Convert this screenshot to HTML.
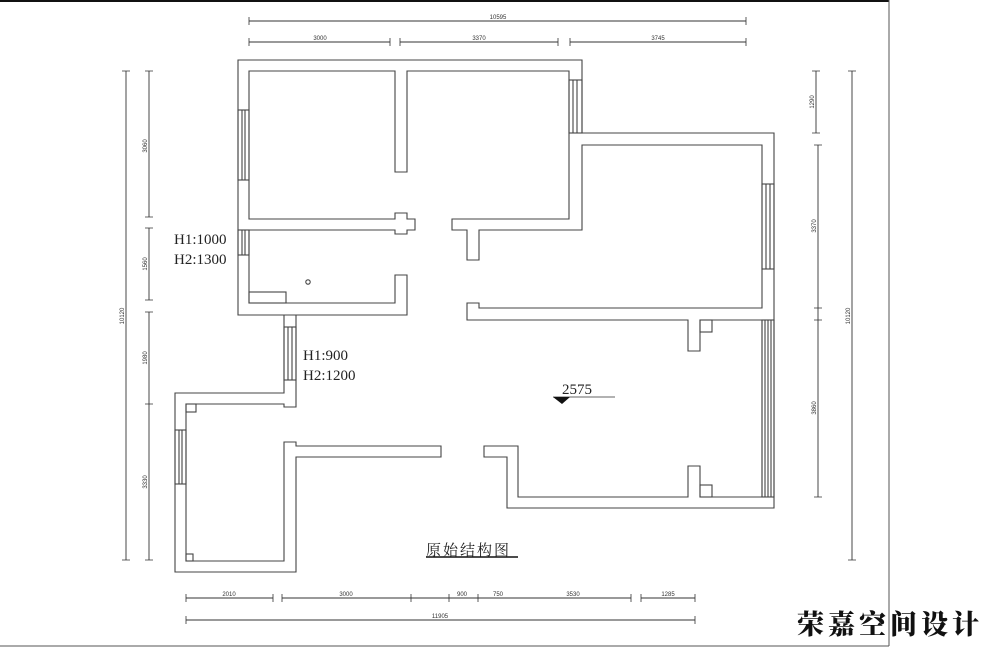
<!DOCTYPE html>
<html><head><meta charset="utf-8"><style>
html,body{margin:0;padding:0;background:#fff;width:1000px;height:647px;overflow:hidden}
svg{display:block}
.w{fill:none;stroke:#444;stroke-width:1.1}
.d{stroke:#333;stroke-width:0.9;fill:none}
.t{font-family:"Liberation Sans",sans-serif;font-size:6px;fill:#333}
.s{font-family:"Liberation Serif",serif;font-size:15px;fill:#222}
.c{font-family:"Liberation Serif","Noto Serif CJK SC",serif;font-size:15px;fill:#222;letter-spacing:2px}
.logo{font-family:"Noto Serif CJK SC",serif;font-weight:900;font-size:27px;letter-spacing:4px;fill:#111}
</style></head><body>
<svg width="1000" height="647" viewBox="0 0 1000 647" xmlns="http://www.w3.org/2000/svg">
<line x1="0" y1="1" x2="889" y2="1" stroke="#111" stroke-width="2"/>
<line x1="889" y1="0" x2="889" y2="646" stroke="#555" stroke-width="1"/>
<line x1="0" y1="646" x2="889" y2="646" stroke="#555" stroke-width="1"/>

<g class="w">
<polyline points="582,133 582,60 238,60 238,315 407,315 407,275 395,275 395,303 249,303 249,230 395,230 395,234 407,234 407,230 415,230 415,219 407,219 407,213 395,213 395,219 249,219 249,71 395,71 395,172 407,172 407,71 569,71 569,219 452,219 452,230 467,230 467,260 479,260 479,230 582,230 582,145 762,145 762,308 479,308 479,303 467,303 467,320 688,320 688,351 700,351 700,320 774,320 774,133 582,133"/>
<rect x="249" y="292" width="37" height="11"/>
<circle cx="308" cy="282" r="2.2"/>
<polyline points="774,320 774,508 507,508 507,457 484,457 484,446 518,446 518,497 688,497 688,466 700,466 700,497 762,497 762,320"/>
<rect x="700" y="320" width="12" height="12"/>
<rect x="700" y="485" width="12" height="12"/>
<polyline points="284,315 284,393 175,393 175,572 296,572 296,457 441,457 441,446 296,446 296,442 284,442 284,561 186,561 186,404 284,404 284,407 296,407 296,315"/>
<rect x="186" y="404" width="10" height="8"/>
<rect x="186" y="554" width="7" height="7"/>
</g>
<g class="w" stroke-width="0.8">
<rect x="238" y="110" width="11" height="70"/><line x1="242" y1="110" x2="242" y2="180"/><line x1="245" y1="110" x2="245" y2="180"/>
<rect x="238" y="230" width="11" height="25"/><line x1="242" y1="230" x2="242" y2="255"/><line x1="245" y1="230" x2="245" y2="255"/>
<rect x="569" y="80" width="13" height="53"/><line x1="573" y1="80" x2="573" y2="133"/><line x1="577" y1="80" x2="577" y2="133"/>
<rect x="284" y="327" width="12" height="53"/><line x1="288" y1="327" x2="288" y2="380"/><line x1="292" y1="327" x2="292" y2="380"/>
<rect x="175" y="430" width="11" height="54"/><line x1="179" y1="430" x2="179" y2="484"/><line x1="182" y1="430" x2="182" y2="484"/>
<rect x="762" y="184" width="12" height="85"/><line x1="766" y1="184" x2="766" y2="269"/><line x1="770" y1="184" x2="770" y2="269"/>
<rect x="762" y="320" width="12" height="177"/><line x1="765" y1="320" x2="765" y2="497"/><line x1="768" y1="320" x2="768" y2="497"/><line x1="771" y1="320" x2="771" y2="497"/>
</g>

<text class="s" x="174" y="244">H1:1000</text><text class="s" x="174" y="264">H2:1300</text>
<text class="s" x="303" y="360">H1:900</text><text class="s" x="303" y="380">H2:1200</text>
<text class="s" x="562" y="394">2575</text>
<line x1="553" y1="397" x2="615" y2="397" stroke="#333" stroke-width="0.8"/>
<polygon points="553,397 570,397 562,404" fill="#111"/>
<text class="c" x="426" y="555">原始结构图</text>
<line x1="426" y1="557" x2="518" y2="557" stroke="#111" stroke-width="1.5"/>
<text class="logo" x="797" y="634">荣嘉空间设计</text>

<g class="d">
<line x1="249" y1="21" x2="746" y2="21"/>
<line x1="249" y1="42" x2="390" y2="42"/><line x1="400" y1="42" x2="558" y2="42"/><line x1="570" y1="42" x2="746" y2="42"/>
<line x1="186" y1="598" x2="273" y2="598"/><line x1="282" y1="598" x2="631" y2="598"/><line x1="641" y1="598" x2="695" y2="598"/>
<line x1="186" y1="620" x2="695" y2="620"/>
<line x1="126" y1="71" x2="126" y2="560"/>
<line x1="149" y1="71" x2="149" y2="217"/><line x1="149" y1="228" x2="149" y2="300"/><line x1="149" y1="312" x2="149" y2="560"/>
<line x1="852" y1="71" x2="852" y2="560"/>
<line x1="816" y1="71" x2="816" y2="133"/><line x1="818" y1="145" x2="818" y2="497"/>
</g>
<g stroke="#333" stroke-width="0.8">
<path d="M249,17v8M746,17v8M249,38v8M390,38v8M400,38v8M558,38v8M570,38v8M746,38v8"/>
<path d="M186,594v8M273,594v8M282,594v8M411,594v8M449,594v8M478,594v8M631,594v8M641,594v8M695,594v8M186,616v8M695,616v8"/>
<path d="M122,71h8M122,560h8M145,71h8M145,217h8M145,228h8M145,300h8M145,312h8M145,404h8M145,560h8"/>
<path d="M848,71h8M848,560h8M812,71h8M812,133h8M814,145h8M814,308h8M814,320h8M814,497h8"/>
</g>
<g class="t" text-anchor="middle">
<text x="498" y="19">10595</text>
<text x="320" y="40">3000</text><text x="479" y="40">3370</text><text x="658" y="40">3745</text>
<text x="229" y="596">2010</text><text x="346" y="596">3000</text><text x="462" y="596">900</text><text x="498" y="596">750</text><text x="573" y="596">3530</text><text x="668" y="596">1285</text>
<text x="440" y="618">11905</text>
</g>
<g class="t" text-anchor="middle">
<text transform="translate(124,316) rotate(-90)">10120</text>
<text transform="translate(147,146) rotate(-90)">3060</text>
<text transform="translate(147,264) rotate(-90)">1560</text>
<text transform="translate(147,358) rotate(-90)">1980</text>
<text transform="translate(147,482) rotate(-90)">3330</text>
<text transform="translate(850,316) rotate(-90)">10120</text>
<text transform="translate(814,102) rotate(-90)">1290</text>
<text transform="translate(816,226) rotate(-90)">3370</text>
<text transform="translate(816,408) rotate(-90)">3860</text>
</g>
</svg>
</body></html>
